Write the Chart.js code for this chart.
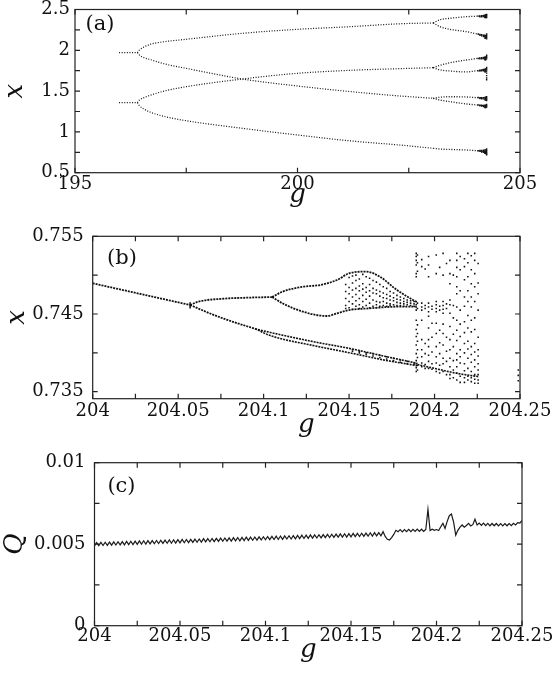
<!DOCTYPE html>
<html>
<head>
<meta charset="utf-8">
<script src="https://cdn.jsdelivr.net/npm/chart.js@4"></script>
<style>
  html, body { margin: 0; padding: 0; background: #fff; }
  body { width: 552px; height: 677px; position: relative; overflow: hidden; }
  canvas { position: absolute; left: 0; }
</style>
</head>
<body>
<canvas id="chart-a" width="552" height="215" style="top:0px"></canvas>
<canvas id="chart-b" width="552" height="230" style="top:215px"></canvas>
<canvas id="chart-c" width="552" height="232" style="top:445px"></canvas>
<script>
// ---------- panel (a): bifurcation diagram, g from 195 to 205 ----------
const aTwoG = [195.99, 196.4];
const aTwoHi = [1.971, 1.971];
const aTwoLo = [1.358, 1.358];

const aG = [196.4, 196.45, 196.55, 196.7, 197, 197.5, 198.76, 200, 201.2, 202.3, 203.05];
const aUpper = [1.971, 2.005, 2.04, 2.075, 2.105, 2.135, 2.208, 2.257, 2.29, 2.325, 2.335];
const aMidHi = [1.971, 1.94, 1.91, 1.885, 1.835, 1.779, 1.648, 1.5625, 1.493, 1.44, 1.412];
const aMidLo = [1.358, 1.39, 1.42, 1.45, 1.5, 1.554, 1.648, 1.718, 1.755, 1.775, 1.787];
const aLower = [1.358, 1.32, 1.28, 1.24, 1.19, 1.137, 1.044, 0.962, 0.889, 0.839, 0.799];

const aSplitG = [203.05, 203.2, 203.43, 203.8, 204.03, 204.25];
const aUpperHi = [2.335, 2.375, 2.392, 2.412, 2.418, 2.425];
const aUpperLo = [2.335, 2.29, 2.257, 2.228, 2.2, 2.167];
const aMidLoHi = [1.787, 1.815, 1.848, 1.881, 1.9, 1.914];
const aMidLoLo = [1.787, 1.76, 1.746, 1.735, 1.75, 1.767];
const aMidHiHi = [1.412, 1.425, 1.431, 1.428, 1.42, 1.412];
const aMidHiLo = [1.412, 1.39, 1.37, 1.342, 1.33, 1.317];
const aLowerEnd = [0.799, 0.79, 0.785, 0.778, 0.77, 0.757];

const aEndG = [204.06, 204.1, 204.14, 204.18, 204.21, 204.23, 204.25];
const aEndX = [
  [2.419, 2.2, 1.899, 1.748, 1.421, 1.33, 0.768],
  [2.421, 2.41, 2.195, 2.184, 1.905, 1.895, 1.756, 1.747, 1.418, 1.41, 1.327, 1.32, 0.772, 0.762],
  [2.424, 2.412, 2.19, 2.178, 1.908, 1.897, 1.76, 1.749, 1.418, 1.406, 1.326, 1.316, 0.772, 0.76, 0.752],
  [2.428, 2.414, 2.185, 2.17, 1.912, 1.898, 1.764, 1.75, 1.42, 1.405, 1.324, 1.312, 0.775, 0.762, 0.75],
  [2.43, 2.415, 2.4, 2.185, 2.168, 2.15, 1.915, 1.9, 1.885, 1.768, 1.752, 1.738, 1.422, 1.405, 1.392, 1.326, 1.312, 1.3, 0.778, 0.762, 0.748, 0.738],
  [2.435, 2.418, 2.402, 2.18, 2.162, 2.148, 1.918, 1.902, 1.884, 1.77, 1.754, 1.736, 1.424, 1.406, 1.39, 1.328, 1.31, 1.298, 0.78, 0.764, 0.75, 0.736],
  [2.44, 2.43, 2.415, 2.4, 2.2, 2.185, 2.17, 2.155, 2.14, 1.94, 1.925, 1.91, 1.895, 1.79, 1.775, 1.76, 1.745, 1.72, 1.69, 1.66, 1.64, 1.43, 1.415, 1.4, 1.385, 1.335, 1.32, 1.305, 0.79, 0.775, 0.76, 0.745, 0.73, 0.72]
];

const aGTicks = [195, 197.5, 200, 202.5, 205];
const aGLabels = ['195', '', '200', '', '205'];
const aXTicks = [0.5, 0.75, 1, 1.25, 1.5, 1.75, 2, 2.25, 2.5];
const aXLabels = ['0.5', '', '1', '', '1.5', '', '2', '', '2.5'];

// ---------- panel (b): zoom on the lowest branch ----------
const bSingleG = [204, 204.02, 204.04, 204.057];
const bSingleX = [0.74895, 0.74797, 0.74699, 0.74616];
const bUpG = [204.057, 204.062, 204.075, 204.09, 204.105];
const bUpX = [0.74616, 0.7466, 0.74695, 0.7471, 0.74718];
const bUpHiG = [204.105, 204.111, 204.123, 204.133, 204.143, 204.15, 204.16, 204.168, 204.178, 204.189];
const bUpHiX = [0.74718, 0.74787, 0.74851, 0.74873, 0.74938, 0.75024, 0.75045, 0.7498, 0.74809, 0.74658];
const bUpLoG = [204.105, 204.111, 204.123, 204.137, 204.143, 204.15, 204.162, 204.178, 204.189];
const bUpLoX = [0.74718, 0.74638, 0.7453, 0.74474, 0.74509, 0.74551, 0.74573, 0.74594, 0.74594];
const bDownG = [204.057, 204.07, 204.082, 204.095];
const bDownX = [0.74616, 0.74495, 0.744, 0.7431];
const bPairG = [204.095, 204.104, 204.13, 204.15, 204.17, 204.19];
const bPairHi = [0.7431, 0.74262, 0.7414, 0.74058, 0.7396, 0.73865];
const bPairLo = [0.7431, 0.74222, 0.7409, 0.74002, 0.7391, 0.73835];
const bTailG = [204.19, 204.2, 204.213, 204.226];
const bTailX = [0.7385, 0.738, 0.73737, 0.73693];
const bKinkG = [204.057];
const bKinkX = [[0.7464, 0.7462, 0.746, 0.7458]];

const bMixG = [204.148, 204.15, 204.152, 204.154, 204.156, 204.158, 204.16, 204.162, 204.164, 204.166,
  204.168, 204.17, 204.172, 204.174, 204.176, 204.178, 204.18, 204.182, 204.184, 204.186, 204.188];
const bMixX = [
  [0.7488, 0.7479, 0.747, 0.7461, 0.7457],
  [0.7497, 0.7484, 0.7476, 0.7466, 0.7458],
  [0.7499, 0.749, 0.7481, 0.7472, 0.7463, 0.7456, 0.7404, 0.7402],
  [0.75, 0.7493, 0.7483, 0.7475, 0.7467, 0.746],
  [0.7495, 0.7486, 0.748, 0.747, 0.7462, 0.7457, 0.7402, 0.74],
  [0.7501, 0.7489, 0.7482, 0.7474, 0.7466, 0.7459],
  [0.7498, 0.7484, 0.7478, 0.7469, 0.7461, 0.74, 0.7398],
  [0.7496, 0.7488, 0.748, 0.7473, 0.7464, 0.7458],
  [0.7493, 0.7483, 0.7477, 0.7468, 0.746, 0.7399, 0.7396],
  [0.7491, 0.7481, 0.7476, 0.7466, 0.7462, 0.7458],
  [0.7488, 0.7479, 0.7473, 0.7465, 0.746, 0.7397, 0.7394],
  [0.7485, 0.7477, 0.7471, 0.7466, 0.7461],
  [0.7483, 0.7475, 0.747, 0.7464, 0.746, 0.7395, 0.7392],
  [0.7479, 0.7473, 0.7468, 0.7463, 0.7461],
  [0.7477, 0.7471, 0.7467, 0.7462, 0.7393, 0.739],
  [0.7474, 0.7469, 0.7465, 0.7461],
  [0.7472, 0.7468, 0.7464, 0.7461, 0.7391, 0.7388],
  [0.747, 0.7466, 0.7463, 0.746],
  [0.7468, 0.7465, 0.7462, 0.7389, 0.7386],
  [0.7467, 0.7464, 0.7461],
  [0.7466, 0.7463, 0.746, 0.7387, 0.7385]
];

const bChaosG = [204.1893, 204.19, 204.1925, 204.1945, 204.1965, 204.1985, 204.201, 204.203, 204.205, 204.207,
  204.209, 204.211, 204.213, 204.215, 204.2175, 204.2195, 204.2215, 204.2235, 204.2255, 204.249];
const bChaosX = [
  [0.7528, 0.7524, 0.7519, 0.7513, 0.7502, 0.7498, 0.7466, 0.7462, 0.7459, 0.7455, 0.7442, 0.743, 0.7421, 0.741, 0.7399, 0.739, 0.7386, 0.7381, 0.7376],
  [0.7526, 0.7516, 0.7505, 0.7464, 0.7457, 0.7436, 0.7425, 0.7415, 0.7404, 0.7394, 0.7384, 0.7378],
  [0.752, 0.7511, 0.7464, 0.7459, 0.7455, 0.7442, 0.7417, 0.7404, 0.7395, 0.7387, 0.7382],
  [0.7508, 0.7461, 0.7457, 0.7412, 0.7399, 0.7385, 0.738],
  [0.7524, 0.7513, 0.7498, 0.7464, 0.7459, 0.7453, 0.7447, 0.7432, 0.7417, 0.7408, 0.7397, 0.7389, 0.738],
  [0.746, 0.7456, 0.7438, 0.742, 0.7401, 0.7386, 0.7379],
  [0.7526, 0.7502, 0.7466, 0.7462, 0.7457, 0.7453, 0.7438, 0.7425, 0.7408, 0.7395, 0.7387, 0.7376],
  [0.751, 0.746, 0.7455, 0.7429, 0.7413, 0.7399, 0.7384, 0.7374],
  [0.7528, 0.75, 0.7466, 0.7461, 0.7456, 0.7451, 0.7437, 0.7425, 0.741, 0.7393, 0.7386, 0.7376],
  [0.7515, 0.7463, 0.7457, 0.742, 0.7402, 0.7389, 0.7372],
  [0.7519, 0.7502, 0.7489, 0.7468, 0.7462, 0.7451, 0.7434, 0.7417, 0.7404, 0.7393, 0.7382, 0.7372, 0.7367],
  [0.75, 0.7461, 0.7445, 0.7424, 0.7408, 0.739, 0.7378, 0.7368],
  [0.7528, 0.7519, 0.751, 0.7498, 0.7485, 0.7476, 0.7459, 0.7442, 0.7429, 0.7416, 0.7399, 0.7391, 0.7382, 0.7374, 0.7365],
  [0.7524, 0.7507, 0.748, 0.7455, 0.7437, 0.7421, 0.7404, 0.7395, 0.7387, 0.737, 0.7362],
  [0.7521, 0.7511, 0.7494, 0.7472, 0.746, 0.744, 0.7426, 0.7412, 0.74, 0.7386, 0.7377, 0.7368, 0.7362],
  [0.7528, 0.7516, 0.7498, 0.748, 0.7466, 0.7448, 0.7432, 0.7415, 0.7405, 0.7393, 0.738, 0.737, 0.7365],
  [0.7525, 0.7507, 0.7489, 0.7472, 0.7459, 0.7442, 0.7427, 0.7408, 0.7398, 0.7388, 0.7376, 0.7368, 0.7363],
  [0.7528, 0.7519, 0.7502, 0.7485, 0.7466, 0.7445, 0.743, 0.7412, 0.7401, 0.7391, 0.7382, 0.7372, 0.7366, 0.7361],
  [0.7515, 0.749, 0.7476, 0.7455, 0.742, 0.7404, 0.7396, 0.7386, 0.7378, 0.7372, 0.7365, 0.7361],
  [0.7378, 0.7371, 0.7364]
];

const bGTicks = [204, 204.025, 204.05, 204.075, 204.1, 204.125, 204.15, 204.175, 204.2, 204.225, 204.25];
const bGLabels = ['204', '', '204.05', '', '204.1', '', '204.15', '', '204.2', '', '204.25'];
const bXTicks = [0.735, 0.74, 0.745, 0.75, 0.755];
const bXLabels = ['0.735', '', '0.745', '', '0.755'];

// ---------- panel (c): Q against g, sampled every 0.00125 from g = 204 ----------
const qStartG = 204;
const qStepG = 0.00125;
// Q in units of 1e-5
const qValues = [
  490, 510, 491, 511, 492, 512, 493, 513, 494, 514,
  495, 515, 496, 516, 496, 517, 497, 518, 498, 519,
  499, 520, 500, 521, 501, 522, 502, 522, 503, 523,
  504, 524, 505, 525, 506, 526, 506, 527, 507, 528,
  508, 529, 509, 529, 510, 530, 511, 531, 512, 532,
  513, 534, 514, 534, 515, 535, 516, 536, 517, 537,
  518, 538, 519, 539, 519, 540, 520, 541, 521, 542,
  522, 543, 523, 543, 524, 544, 525, 545, 526, 546,
  527, 547, 528, 548, 529, 549, 529, 550, 530, 551,
  532, 552, 532, 553, 533, 554, 534, 555, 535, 556,
  536, 557, 537, 557, 538, 558, 539, 559, 540, 560,
  541, 561, 542, 562, 543, 563, 543, 564, 544, 565,
  545, 566, 546, 566, 547, 567, 548, 568, 549, 570,
  550, 571, 551, 571, 552,
  577, 548, 530, 526, 540, 560, 585,
  576, 590, 576, 590, 577, 591, 577, 591, 578, 592, 578, 592, 579, 590,
  714, 584, 592, 585, 590, 584,
  607, 628, 597, 640, 675, 685, 636, 556, 585, 605, 618, 604, 615, 628, 612, 620, 653, 618, 630,
  615, 629, 614, 628, 613, 627, 613, 627, 612, 626, 612, 626, 613, 627, 614, 628, 618, 632, 630, 645
];

const cGTicks = bGTicks;
const cGLabels = bGLabels;
const cQTicks = [0, 0.0025, 0.005, 0.0075, 0.01];
const cQLabels = ['0', '', '0.005', '', '0.01'];

// ---------- drawing ----------
const ink = '#111';
const tickFont = { family: 'DejaVu Serif', size: 18 };
const titleFont = { family: 'DejaVu Serif', size: 26, style: 'italic', lineHeight: 1.2 };

const frame = {
  id: 'frame',
  afterDatasetsDraw(chart, args, opts) {
    const { ctx, chartArea: a, scales: { x, y } } = chart;
    ctx.save();
    ctx.strokeStyle = '#222';
    ctx.lineWidth = 1.2;
    ctx.strokeRect(a.left, a.top, a.right - a.left, a.bottom - a.top);
    ctx.beginPath();
    x.ticks.forEach(t => {
      const px = x.getPixelForValue(t.value);
      ctx.moveTo(px, a.bottom); ctx.lineTo(px, a.bottom - 5);
      ctx.moveTo(px, a.top); ctx.lineTo(px, a.top + 5);
    });
    y.ticks.forEach(t => {
      const py = y.getPixelForValue(t.value);
      ctx.moveTo(a.left, py); ctx.lineTo(a.left + 5, py);
      ctx.moveTo(a.right, py); ctx.lineTo(a.right - 5, py);
    });
    ctx.stroke();
    ctx.fillStyle = ink;
    ctx.font = '21px "DejaVu Serif"';
    ctx.textBaseline = 'middle';
    ctx.fillText(opts.label, a.left + opts.dx, a.top + opts.dy);
    ctx.restore();
  }
};

function lineSet(g, v, dash, width) {
  return {
    data: g.map((gv, i) => ({ x: gv, y: v[i] })),
    showLine: true, pointRadius: 0, borderColor: ink, borderWidth: width,
    borderDash: dash, cubicInterpolationMode: 'monotone'
  };
}

function dotSet(gCols, vCols, r) {
  const pts = [];
  gCols.forEach((g, i) => vCols[i].forEach(v => pts.push({ x: g, y: v })));
  return { data: pts, showLine: false, pointRadius: r, pointStyle: 'rect', backgroundColor: ink, borderWidth: 0 };
}

function makeChart(id, datasets, o) {
  return new Chart(document.getElementById(id), {
    type: 'scatter',
    data: { datasets },
    options: {
      animation: false, responsive: false, devicePixelRatio: 1, events: [],
      layout: { padding: { left: 0, top: o.top, right: o.right, bottom: 0 } },
      plugins: { legend: { display: false }, tooltip: { enabled: false }, frame: o.frame },
      scales: {
        x: {
          type: 'linear', min: o.gMin, max: o.gMax,
          afterBuildTicks: s => { s.ticks = o.gTicks.map(v => ({ value: v })); },
          afterFit: s => { s.height = o.xh; s.paddingLeft = 0; s.paddingRight = 0; },
          grid: { display: false, drawTicks: false }, border: { display: false },
          ticks: { autoSkip: false, maxRotation: 0, padding: o.xPad, color: ink, font: tickFont,
                   callback: (v, i) => o.gLabels[i] },
          title: { display: true, text: 'g', color: ink, font: titleFont, padding: { top: 0, bottom: o.gTitlePad } }
        },
        y: {
          type: 'linear', min: o.yMin, max: o.yMax,
          afterBuildTicks: s => { s.ticks = o.yTicks.map(v => ({ value: v })); },
          afterFit: s => { s.width = o.yw; s.paddingTop = 0; s.paddingBottom = 0; },
          grid: { display: false, drawTicks: false }, border: { display: false },
          ticks: { autoSkip: false, padding: o.yPad, color: ink, font: tickFont,
                   callback: (v, i) => o.yLabels[i] },
          title: { display: true, text: o.yTitle, color: ink, font: titleFont, padding: { top: o.yTitlePad, bottom: 0 } }
        }
      }
    },
    plugins: [frame]
  });
}

const dotA = [1, 1.6];
makeChart('chart-a', [
  lineSet(aTwoG, aTwoHi, dotA, 1.3),
  lineSet(aTwoG, aTwoLo, dotA, 1.3),
  lineSet(aG, aUpper, dotA, 1.2),
  lineSet(aG, aMidHi, dotA, 1.2),
  lineSet(aG, aMidLo, dotA, 1.2),
  lineSet(aG, aLower, dotA, 1.2),
  lineSet(aSplitG, aUpperHi, dotA, 1.3),
  lineSet(aSplitG, aUpperLo, dotA, 1.3),
  lineSet(aSplitG, aMidLoHi, dotA, 1.3),
  lineSet(aSplitG, aMidLoLo, dotA, 1.3),
  lineSet(aSplitG, aMidHiHi, dotA, 1.3),
  lineSet(aSplitG, aMidHiLo, dotA, 1.3),
  lineSet(aSplitG, aLowerEnd, dotA, 1.3),
  dotSet(aEndG, aEndX, 1)
], {
  top: 9.5, right: 32, xh: 42.3, yw: 75, xPad: 1, yPad: 5, gTitlePad: 4.4, yTitlePad: 0,
  gMin: 195, gMax: 205, gTicks: aGTicks, gLabels: aGLabels,
  yMin: 0.5, yMax: 2.5, yTicks: aXTicks, yLabels: aXLabels, yTitle: 'x',
  frame: { label: '(a)', dx: 10.6, dy: 14.7 }
});

const dashB = [2, 1];
makeChart('chart-b', [
  lineSet(bSingleG, bSingleX, dashB, 1.8),
  lineSet(bUpG, bUpX, dashB, 1.8),
  lineSet(bUpHiG, bUpHiX, dashB, 1.8),
  lineSet(bUpLoG, bUpLoX, dashB, 1.8),
  lineSet(bDownG, bDownX, dashB, 1.8),
  lineSet(bPairG, bPairHi, dashB, 1.6),
  lineSet(bPairG, bPairLo, dashB, 1.6),
  lineSet(bTailG, bTailX, dashB, 1.6),
  dotSet(bKinkG, bKinkX, 1.1),
  dotSet(bMixG, bMixX, 1.1),
  dotSet(bChaosG, bChaosX, 1.1)
], {
  top: 21.3, right: 32, xh: 46.3, yw: 92.7, xPad: 2, yPad: 9, gTitlePad: 4.4, yTitlePad: 2,
  gMin: 204, gMax: 204.25, gTicks: bGTicks, gLabels: bGLabels,
  yMin: 0.7341, yMax: 0.755, yTicks: bXTicks, yLabels: bXLabels, yTitle: 'x',
  frame: { label: '(b)', dx: 14.3, dy: 22.7 }
});

makeChart('chart-c', [{
  data: qValues.map((q, i) => ({ x: qStartG + i * qStepG, y: q * 1e-5 })),
  showLine: true, pointRadius: 0, borderColor: '#1a1a1a', borderWidth: 1.2, tension: 0
}], {
  top: 17.7, right: 30, xh: 51.3, yw: 94.5, xPad: 0, yPad: 9, gTitlePad: 11.4, yTitlePad: 0,
  gMin: 204, gMax: 204.25, gTicks: cGTicks, gLabels: cGLabels,
  yMin: 0, yMax: 0.01, yTicks: cQTicks, yLabels: cQLabels, yTitle: 'Q',
  frame: { label: '(c)', dx: 12.9, dy: 24 }
});
</script>
</body>
</html>
